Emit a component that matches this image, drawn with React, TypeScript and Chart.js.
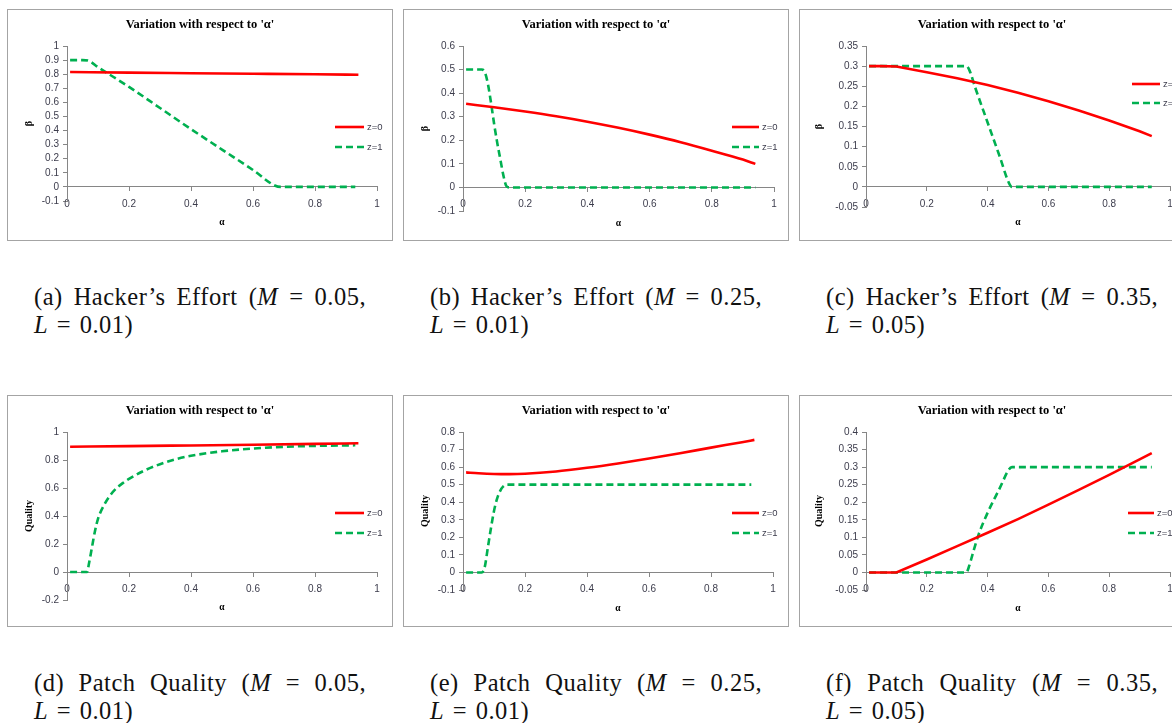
import React, { useEffect, useRef } from "react";
import { Chart, registerables } from "chart.js";

Chart.register(...registerables);

const CHART_TITLE = "Variation with respect to 'α'";
const SERIES_LABELS = ["z=0", "z=1"];
const X_TITLE = "α";
const X_MIN = 0;
const X_MAX = 1;
const X_STEP = 0.2;

// (a) Hacker's Effort, M = 0.05, L = 0.01
const aAlpha0 = [0.01, 0.2, 0.4, 0.6, 0.8, 0.94];
const aBeta0 = [0.815, 0.811, 0.807, 0.803, 0.799, 0.796];
const aAlpha1 = [0.01, 0.05, 0.07, 0.1, 0.2, 0.3, 0.4, 0.5, 0.6, 0.67, 0.69, 0.8, 0.93];
const aBeta1 = [0.9, 0.9, 0.895, 0.85, 0.71, 0.56, 0.41, 0.265, 0.12, 0.01, 0, 0, 0];

// (b) Hacker's Effort, M = 0.25, L = 0.01
const bAlpha0 = [0.01, 0.1, 0.2, 0.3, 0.4, 0.5, 0.6, 0.7, 0.8, 0.9, 0.94];
const bBeta0 = [0.355, 0.34, 0.322, 0.302, 0.279, 0.253, 0.224, 0.192, 0.156, 0.118, 0.1];
const bAlpha1 = [0.01, 0.06, 0.07, 0.08, 0.09, 0.1, 0.11, 0.12, 0.13, 0.14, 0.15, 0.3, 0.5, 0.7, 0.94];
const bBeta1 = [0.5, 0.5, 0.49, 0.44, 0.36, 0.27, 0.19, 0.12, 0.05, 0.005, 0, 0, 0, 0, 0];

// (c) Hacker's Effort, M = 0.35, L = 0.05
const cAlpha0 = [0.01, 0.05, 0.1, 0.2, 0.3, 0.4, 0.5, 0.6, 0.7, 0.8, 0.9, 0.94];
const cBeta0 = [0.3, 0.3, 0.299, 0.285, 0.27, 0.253, 0.234, 0.213, 0.19, 0.165, 0.138, 0.126];
const cAlpha1 = [0.01, 0.1, 0.2, 0.3, 0.33, 0.34, 0.36, 0.4, 0.44, 0.47, 0.48, 0.6, 0.8, 0.94];
const cBeta1 = [0.3, 0.3, 0.3, 0.3, 0.3, 0.29, 0.245, 0.16, 0.075, 0.01, 0, 0, 0, 0];

// (d) Patch Quality, M = 0.05, L = 0.01
const dAlpha0 = [0.01, 0.2, 0.4, 0.6, 0.8, 0.94];
const dQual0 = [0.895, 0.899, 0.904, 0.909, 0.915, 0.92];
const dAlpha1 = [0.01, 0.04, 0.065, 0.07, 0.08, 0.09, 0.1, 0.12, 0.14, 0.16, 0.18, 0.2, 0.25, 0.3, 0.35, 0.4, 0.5, 0.6, 0.7, 0.8, 0.93];
const dQual1 = [0, 0, 0, 0.05, 0.17, 0.29, 0.38, 0.48, 0.55, 0.6, 0.635, 0.665, 0.725, 0.77, 0.805, 0.83, 0.862, 0.882, 0.894, 0.901, 0.905];

// (e) Patch Quality, M = 0.25, L = 0.01
const eAlpha0 = [0.01, 0.05, 0.1, 0.15, 0.2, 0.3, 0.4, 0.5, 0.6, 0.7, 0.8, 0.9, 0.94];
const eQual0 = [0.57, 0.565, 0.561, 0.56, 0.562, 0.575, 0.596, 0.621, 0.649, 0.679, 0.711, 0.742, 0.755];
const eAlpha1 = [0.01, 0.06, 0.07, 0.08, 0.09, 0.1, 0.11, 0.12, 0.13, 0.14, 0.15, 0.3, 0.5, 0.7, 0.93];
const eQual1 = [0, 0, 0.03, 0.14, 0.25, 0.35, 0.42, 0.465, 0.49, 0.5, 0.5, 0.5, 0.5, 0.5, 0.5];

// (f) Patch Quality, M = 0.35, L = 0.05
const fAlpha0 = [0.01, 0.05, 0.1, 0.2, 0.3, 0.4, 0.5, 0.6, 0.7, 0.8, 0.9, 0.94];
const fQual0 = [0, 0, 0, 0.037, 0.075, 0.113, 0.152, 0.193, 0.235, 0.278, 0.322, 0.34];
const fAlpha1 = [0.01, 0.1, 0.2, 0.3, 0.33, 0.34, 0.35, 0.37, 0.4, 0.44, 0.47, 0.48, 0.6, 0.8, 0.94];
const fQual1 = [0, 0, 0, 0, 0, 0.02, 0.05, 0.107, 0.17, 0.24, 0.293, 0.3, 0.3, 0.3, 0.3];

const RED = "#ff0000";
const GREEN = "#00b050";
const TICK_COLOR = "#3c3c4c";
const AXIS_COLOR = "#868686";
const CW = 384;
const CH = 230;

type PanelCfg = {
  left: number;
  top: number;
  x0: number[];
  y0: number[];
  x1: number[];
  y1: number[];
  smooth0: boolean;
  smooth1: boolean;
  yMin: number;
  yMax: number;
  yStep: number;
  yTitle: string;
  padLeft: number;
  areaLeft: number;
  areaRight: number;
  areaBottom: number;
  lgX1: number;
  lgX2: number;
  lgTx: number;
  lgY0: number;
  lgY1: number;
};

const PANELS: PanelCfg[] = [
  { left: 7, top: 9, x0: aAlpha0, y0: aBeta0, x1: aAlpha1, y1: aBeta1, smooth0: true, smooth1: true,
    yMin: -0.1, yMax: 1, yStep: 0.1, yTitle: "β",
    padLeft: 11, areaLeft: 59, areaRight: 369, areaBottom: 191, lgX1: 327, lgX2: 356, lgTx: 359, lgY0: 117, lgY1: 137 },
  { left: 403, top: 9, x0: bAlpha0, y0: bBeta0, x1: bAlpha1, y1: bBeta1, smooth0: true, smooth1: true,
    yMin: -0.1, yMax: 0.6, yStep: 0.1, yTitle: "β",
    padLeft: 11, areaLeft: 59, areaRight: 370, areaBottom: 201, lgX1: 328, lgX2: 355, lgTx: 358, lgY0: 117, lgY1: 137 },
  { left: 799, top: 9, x0: cAlpha0, y0: cBeta0, x1: cAlpha1, y1: cBeta1, smooth0: false, smooth1: true,
    yMin: -0.05, yMax: 0.35, yStep: 0.05, yTitle: "β",
    padLeft: 9, areaLeft: 66, areaRight: 370, areaBottom: 197, lgX1: 332, lgX2: 360, lgTx: 363, lgY0: 74, lgY1: 93 },
  { left: 7, top: 395, x0: dAlpha0, y0: dQual0, x1: dAlpha1, y1: dQual1, smooth0: true, smooth1: true,
    yMin: -0.2, yMax: 1, yStep: 0.2, yTitle: "Quality",
    padLeft: 11, areaLeft: 59, areaRight: 369, areaBottom: 204, lgX1: 327, lgX2: 356, lgTx: 359, lgY0: 117, lgY1: 137 },
  { left: 403, top: 395, x0: eAlpha0, y0: eQual0, x1: eAlpha1, y1: eQual1, smooth0: true, smooth1: true,
    yMin: -0.1, yMax: 0.8, yStep: 0.1, yTitle: "Quality",
    padLeft: 11, areaLeft: 59, areaRight: 369, areaBottom: 194, lgX1: 328, lgX2: 355, lgTx: 358, lgY0: 117, lgY1: 137 },
  { left: 799, top: 395, x0: fAlpha0, y0: fQual0, x1: fAlpha1, y1: fQual1, smooth0: false, smooth1: true,
    yMin: -0.05, yMax: 0.4, yStep: 0.05, yTitle: "Quality",
    padLeft: 9, areaLeft: 66, areaRight: 370, areaBottom: 194, lgX1: 328, lgX2: 354, lgTx: 357, lgY0: 117, lgY1: 137 },
];

const fmt = (v: number | string) => String(Number(Number(v).toFixed(2)));

function makeDecor(cfg: PanelCfg) {
  return {
    id: "decor",
    afterDraw(chart: any) {
      const ctx = chart.ctx as CanvasRenderingContext2D;
      ctx.save();
      ctx.fillStyle = "#000";
      ctx.font = 'bold 12.5px "Liberation Serif"';
      ctx.textAlign = "center";
      ctx.textBaseline = "middle";
      ctx.fillText(CHART_TITLE, chart.width / 2, 15);
      const ys = [cfg.lgY0, cfg.lgY1];
      chart.data.datasets.forEach((ds: any, i: number) => {
        const y = ys[i];
        ctx.strokeStyle = ds.borderColor;
        ctx.lineWidth = ds.borderWidth;
        ctx.setLineDash(ds.borderDash || []);
        ctx.beginPath();
        ctx.moveTo(cfg.lgX1, y);
        ctx.lineTo(cfg.lgX2, y);
        ctx.stroke();
        ctx.setLineDash([]);
        ctx.fillStyle = TICK_COLOR;
        ctx.font = '9.5px "Liberation Sans"';
        ctx.textAlign = "left";
        ctx.fillText(ds.label, cfg.lgTx, y);
      });
      ctx.restore();
    },
  };
}

function Panel({ cfg }: { cfg: PanelCfg }) {
  const ref = useRef<HTMLCanvasElement>(null);
  useEffect(() => {
    const yW = cfg.areaLeft - cfg.padLeft;
    const chart = new Chart(ref.current!, {
      type: "line",
      data: {
        datasets: [
          {
            label: SERIES_LABELS[0],
            data: cfg.x0.map((x, i) => ({ x, y: cfg.y0[i] })),
            borderColor: RED,
            backgroundColor: RED,
            borderWidth: 2.6,
            pointRadius: 0,
            tension: 0,
            cubicInterpolationMode: cfg.smooth0 ? "monotone" : "default",
          },
          {
            label: SERIES_LABELS[1],
            data: cfg.x1.map((x, i) => ({ x, y: cfg.y1[i] })),
            borderColor: GREEN,
            backgroundColor: GREEN,
            borderWidth: 2.6,
            borderDash: [7, 4],
            pointRadius: 0,
            tension: 0,
            cubicInterpolationMode: cfg.smooth1 ? "monotone" : "default",
          },
        ],
      },
      options: {
        responsive: false,
        animation: false,
        devicePixelRatio: 1,
        layout: {
          padding: { left: cfg.padLeft, right: CW - cfg.areaRight, top: 36, bottom: CH - cfg.areaBottom },
        },
        plugins: {
          legend: { display: false },
          title: { display: false },
          tooltip: { enabled: false },
        },
        scales: {
          x: {
            type: "linear",
            position: { y: 0 },
            min: X_MIN,
            max: X_MAX,
            grid: { display: true, drawOnChartArea: false, drawTicks: true, tickLength: 4, color: AXIS_COLOR },
            border: { display: true, color: AXIS_COLOR, width: 1 },
            ticks: {
              stepSize: X_STEP,
              autoSkip: false,
              maxRotation: 0,
              padding: 7,
              color: TICK_COLOR,
              font: { family: "Liberation Sans", size: 10 },
              callback: (v: any) => fmt(v),
            },
            title: {
              display: true,
              text: X_TITLE,
              color: "#000",
              font: { family: "Liberation Serif", size: 9.5, weight: "bold" },
              padding: { top: 0, bottom: 0 },
            },
          },
          y: {
            type: "linear",
            min: cfg.yMin,
            max: cfg.yMax,
            afterFit: (scale: any) => {
              scale.width = yW;
            },
            grid: { display: true, drawOnChartArea: false, drawTicks: true, tickLength: 4, color: AXIS_COLOR },
            border: { display: true, color: AXIS_COLOR, width: 1 },
            ticks: {
              stepSize: cfg.yStep,
              autoSkip: false,
              padding: 4,
              color: TICK_COLOR,
              font: { family: "Liberation Sans", size: 10 },
              callback: (v: any) => fmt(v),
            },
            title: {
              display: true,
              text: cfg.yTitle,
              color: "#000",
              font: { family: "Liberation Serif", size: 10, weight: "bold" },
              padding: { top: 4, bottom: 0 },
            },
          },
        },
      },
      plugins: [makeDecor(cfg)],
    } as any);
    return () => chart.destroy();
  }, [cfg]);
  return (
    <div
      style={{
        position: "absolute",
        left: cfg.left,
        top: cfg.top,
        width: CW,
        height: CH,
        border: "1px solid #a4a4a4",
        background: "#fff",
      }}
    >
      <canvas ref={ref} width={CW} height={CH} style={{ display: "block", width: CW, height: CH }} />
    </div>
  );
}

const CAPTIONS = [
  { left: 34, top: 283, tag: "(a)", name: "Hacker’s Effort", mv: "0.05", lv: "0.01" },
  { left: 430, top: 283, tag: "(b)", name: "Hacker’s Effort", mv: "0.25", lv: "0.01" },
  { left: 826, top: 283, tag: "(c)", name: "Hacker’s Effort", mv: "0.35", lv: "0.05" },
  { left: 34, top: 669, tag: "(d)", name: "Patch Quality", mv: "0.05", lv: "0.01" },
  { left: 430, top: 669, tag: "(e)", name: "Patch Quality", mv: "0.25", lv: "0.01" },
  { left: 826, top: 669, tag: "(f)", name: "Patch Quality", mv: "0.35", lv: "0.05" },
];

export default function App() {
  const capStyle: React.CSSProperties = {
    fontFamily: '"Liberation Serif", serif',
    fontSize: 24.5,
    lineHeight: "28px",
    letterSpacing: 0.5,
    color: "#111",
    whiteSpace: "nowrap",
  };
  return (
    <div
      style={{
        position: "absolute",
        left: 0,
        top: 0,
        width: 1172,
        height: 723,
        overflow: "hidden",
        background: "#fff",
      }}
    >
      {PANELS.map((p, i) => (
        <Panel key={i} cfg={p} />
      ))}
      {CAPTIONS.map((c, i) => (
        <div key={i} style={{ position: "absolute", left: c.left, top: c.top, width: 332, ...capStyle }}>
          <div style={{ textAlign: "justify", textAlignLast: "justify", whiteSpace: "normal" }}>
            {c.tag} {c.name} (<i>M</i> = {c.mv},
          </div>
          <div style={{ wordSpacing: 2 }}>
            <i>L</i> = {c.lv})
          </div>
        </div>
      ))}
    </div>
  );
}
